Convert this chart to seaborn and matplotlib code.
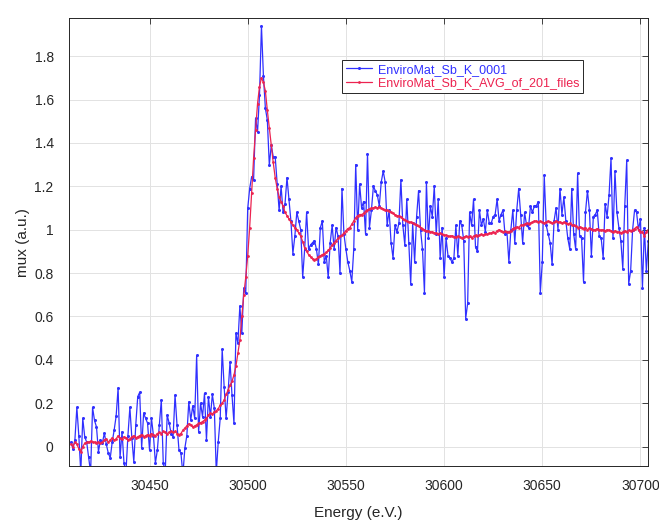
import numpy as np
import pandas as pd
import matplotlib
matplotlib.use('Agg')
import matplotlib.pyplot as plt
from matplotlib.ticker import FormatStrFormatter, FuncFormatter
import seaborn as sns

sns.set_style('whitegrid')
plt.rcParams['font.family'] = ['Liberation Sans', 'DejaVu Sans']

# energy grid starts at 30410 eV, 1 eV steps
energy_start = 30410

# single scan (noisy)
mux_0001 = [
    0.02, -0.01, 0.03, 0.18, 0.05, -0.12, 0.13, 0.045, 0.02, -0.05,
    -0.12, 0.18, 0.12, 0.09, -0.024, 0.03, 0.016, 0.062, 0.01, -0.03,
    -0.053, 0.02, 0.076, 0.14, 0.27, -0.05, 0.068, -0.076, -0.12, 0.05,
    0.18, 0.04, -0.07, 0.10, 0.23, 0.25, -0.007, 0.154, 0.13, 0.108,
    -0.016, 0.13, 0.05, -0.076, -0.016, 0.10, 0.214, -0.076, -0.12, 0.145,
    0.108, 0.06, 0.045, 0.237, 0.10, -0.016, -0.03, -0.13, -0.007, 0.05,
    0.206, 0.122, 0.187, 0.13, 0.42, 0.068, 0.20, 0.137, 0.245, 0.03,
    0.23, 0.137, 0.24, 0.176, -0.12, 0.022, 0.13, 0.448, 0.276, 0.13,
    0.25, 0.39, 0.237, 0.107, 0.522, 0.476, 0.648, 0.522, 0.73, 0.706,
    1.098, 1.19, 1.244, 1.23, 1.513, 1.45, 1.62, 1.94, 1.71, 1.56,
    1.505, 1.298, 1.39, 1.336, 1.336, 1.213, 1.09, 1.20, 1.08, 1.12,
    1.24, 1.14, 1.04, 0.89, 0.97, 1.08, 1.04, 1.00, 0.78, 0.91,
    1.08, 0.91, 0.93, 0.94, 0.95, 0.91, 0.84, 1.01, 1.04, 0.85,
    0.88, 0.78, 0.94, 1.02, 0.91, 1.01, 0.97, 0.80, 1.19, 0.98,
    0.91, 0.85, 0.81, 0.76, 0.91, 1.30, 1.00, 1.21, 1.10, 1.13,
    0.98, 1.35, 1.01, 1.09, 1.20, 1.18, 1.16, 1.11, 1.22, 1.27,
    1.22, 1.02, 1.09, 0.94, 0.87, 1.02, 0.99, 1.03, 1.23, 1.02,
    0.93, 1.14, 0.94, 0.75, 1.03, 0.85, 1.06, 1.18, 1.00, 0.91,
    0.71, 1.22, 0.96, 1.11, 1.06, 1.20, 0.98, 1.14, 0.87, 1.01,
    0.78, 0.96, 0.88, 0.87, 0.85, 0.87, 1.02, 0.88, 1.04, 1.02,
    0.95, 0.59, 0.66, 1.08, 1.02, 1.14, 0.92, 0.90, 1.09, 1.02,
    1.05, 0.99, 1.09, 1.03, 1.03, 1.06, 1.07, 1.14, 1.04, 1.07,
    1.09, 0.98, 0.99, 0.85, 1.00, 1.09, 0.94, 1.09, 1.19, 1.07,
    0.94, 1.08, 1.02, 1.01, 1.11, 1.08, 1.11, 1.11, 1.13, 0.71,
    0.85, 1.25, 1.02, 0.98, 0.94, 0.84, 1.04, 1.10, 1.00, 1.19,
    1.07, 1.15, 1.04, 0.96, 0.91, 1.19, 0.98, 0.91, 1.26, 0.97,
    0.96, 0.76, 1.08, 1.18, 1.09, 0.88, 1.06, 1.07, 1.09, 0.97,
    0.96, 0.87, 1.12, 1.06, 1.16, 1.33, 0.96, 1.27, 1.08, 1.01,
    0.95, 0.82, 1.11, 1.32, 0.75, 0.81, 1.00, 1.09, 1.08, 1.00,
    1.05, 0.73, 1.01, 0.81, 0.95,
]

# average of 201 scans
mux_avg = [
    0.01, 0.0, 0.02, 0.01, -0.01, -0.025, 0.0, 0.015, 0.02, 0.02,
    0.025, 0.02, 0.02, 0.018, 0.02, 0.015, 0.02, 0.03, 0.035, 0.02,
    0.03, 0.04, 0.03, 0.035, 0.05, 0.04, 0.035, 0.045, 0.04, 0.03,
    0.035, 0.045, 0.05, 0.04, 0.045, 0.05, 0.055, 0.045, 0.05, 0.055,
    0.05, 0.06, 0.055, 0.05, 0.06, 0.065, 0.06, 0.07, 0.065, 0.06,
    0.065, 0.07, 0.065, 0.07, 0.06, 0.055, 0.06, 0.075, 0.085, 0.095,
    0.105, 0.10, 0.09, 0.095, 0.10, 0.108, 0.11, 0.115, 0.122, 0.13,
    0.145, 0.154, 0.15, 0.16, 0.165, 0.175, 0.19, 0.20, 0.214, 0.24,
    0.26, 0.283, 0.30, 0.33, 0.37, 0.43, 0.49, 0.60, 0.70, 0.78,
    0.88, 1.01, 1.17, 1.33, 1.46, 1.58, 1.66, 1.70, 1.68, 1.64,
    1.55, 1.47, 1.39, 1.31, 1.24, 1.19, 1.15, 1.13, 1.11, 1.08,
    1.065, 1.05, 1.035, 1.02, 1.01, 1.0, 0.985, 0.97, 0.945, 0.915,
    0.90, 0.885, 0.875, 0.865, 0.86, 0.865, 0.875, 0.88, 0.885, 0.89,
    0.895, 0.905, 0.915, 0.93, 0.94, 0.95, 0.96, 0.97, 0.975, 0.985,
    0.995, 1.005, 1.01, 1.025, 1.04, 1.055, 1.065, 1.07, 1.07, 1.075,
    1.085, 1.09, 1.095, 1.10, 1.10, 1.105, 1.10, 1.105, 1.10, 1.095,
    1.09, 1.09, 1.085, 1.08, 1.075, 1.07, 1.065, 1.063, 1.06, 1.05,
    1.045, 1.04, 1.035, 1.035, 1.03, 1.025, 1.02, 1.015, 1.01, 1.005,
    1.0, 0.995, 0.995, 0.99, 0.99, 0.985, 0.985, 0.98, 0.983, 0.98,
    0.975, 0.975, 0.97, 0.97, 0.972, 0.968, 0.965, 0.97, 0.967, 0.962,
    0.965, 0.97, 0.968, 0.97, 0.962, 0.97, 0.975, 0.972, 0.975, 0.978,
    0.975, 0.98, 0.978, 0.983, 0.985, 0.99, 0.985, 0.995, 1.0, 0.995,
    0.99, 0.992, 0.988, 0.99, 0.995, 1.005, 1.01, 1.013, 1.01, 1.02,
    1.022, 1.025, 1.03, 1.028, 1.03, 1.035, 1.04, 1.04, 1.035, 1.04,
    1.035, 1.03, 1.036, 1.04, 1.036, 1.03, 1.035, 1.04, 1.036, 1.036,
    1.03, 1.035, 1.03, 1.025, 1.03, 1.02, 1.02, 1.015, 1.01, 1.013,
    1.01, 1.005, 1.01, 1.0, 1.006, 1.005, 1.0, 1.0, 1.005, 1.0,
    0.998, 1.0, 0.995, 1.0, 0.998, 0.995, 0.99, 0.995, 0.99, 0.99,
    0.985, 0.99, 0.995, 0.99, 0.998, 0.995, 1.0, 1.005, 1.013, 1.0,
    0.99, 0.99, 0.97, 0.99, 1.0,
]

labels = ['EnviroMat_Sb_K_0001', 'EnviroMat_Sb_K_AVG_of_201_files']
colors = ['#3030ff', '#ec2350']

df1 = pd.DataFrame({'energy': energy_start + np.arange(len(mux_0001)), 'mux': mux_0001})
df2 = pd.DataFrame({'energy': energy_start + np.arange(len(mux_avg)), 'mux': mux_avg})

fig = plt.figure(figsize=(6.59, 5.2), dpi=100)
ax = fig.add_axes([0.1047, 0.1038, 0.8791, 0.861])

sns.lineplot(data=df1, x='energy', y='mux', ax=ax, color=colors[0], lw=0.9,
             marker='o', markersize=2.2, markeredgewidth=0, label=labels[0])
sns.lineplot(data=df2, x='energy', y='mux', ax=ax, color=colors[1], lw=0.9,
             marker='o', markersize=2.0, markeredgewidth=0, label=labels[1])

ax.set_xlim(30409, 30704)
ax.set_ylim(-0.09, 1.975)
ax.set_xticks(np.arange(30450, 30701, 50))
ax.set_yticks(np.arange(0, 1.81, 0.2))
ax.yaxis.set_major_formatter(FuncFormatter(lambda v, p: '%g' % round(v, 2)))
ax.xaxis.set_major_formatter(FormatStrFormatter('%d'))

ax.grid(True, color='#e2e2e2', lw=0.7)
for s in ax.spines.values():
    s.set_color('#262626')
    s.set_linewidth(0.7)
ax.tick_params(direction='in', length=4, width=0.6, top=True, right=True,
               colors='#262626', labelsize=10)
ax.tick_params(axis='x', pad=9)
ax.tick_params(axis='y', pad=11)

ax.set_xlabel('Energy (e.V.)', fontsize=11, color='#262626', labelpad=10)
ax.set_ylabel('mux (a.u.)', fontsize=11, color='#262626', labelpad=3)

leg = ax.legend(loc='upper left', bbox_to_anchor=(0.471, 0.907), fontsize=9,
                frameon=True, fancybox=False, framealpha=1, edgecolor='#262626',
                borderpad=0.3, handlelength=2.1, handletextpad=0.5,
                labelspacing=0.15, borderaxespad=0, labelcolor='linecolor')
leg.get_frame().set_linewidth(0.7)

fig.savefig('out.png', dpi=100)
